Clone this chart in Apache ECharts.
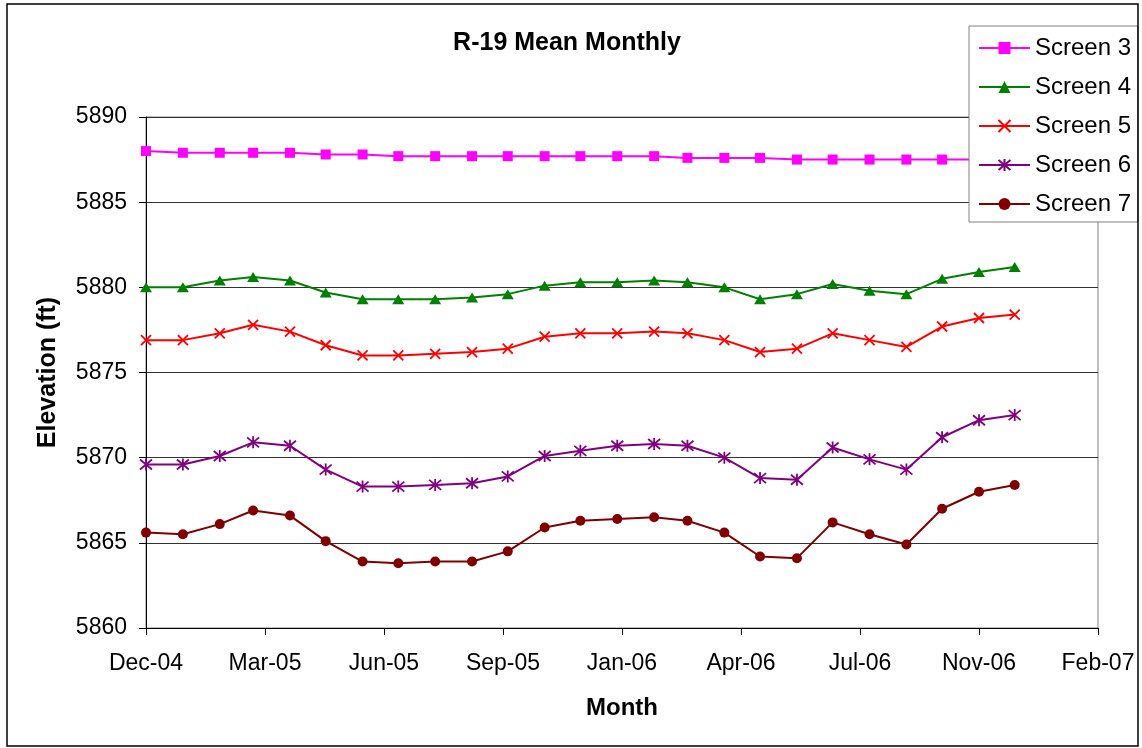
<!DOCTYPE html>
<html>
<head>
<meta charset="utf-8">
<title>R-19 Mean Monthly</title>
<script src="https://cdn.jsdelivr.net/npm/echarts@6/dist/echarts.min.js"></script>
<style>
  html, body { margin: 0; padding: 0; background: #fff; }
  #chart { width: 1142px; height: 748px; }
</style>
</head>
<body>
<div id="chart"></div>
<script>
// Monthly sample dates (first of each month)
const months = [
  '2004-12', '2005-01', '2005-02', '2005-03', '2005-04', '2005-05', '2005-06',
  '2005-07', '2005-08', '2005-09', '2005-10', '2005-11', '2005-12', '2006-01',
  '2006-02', '2006-03', '2006-04', '2006-05', '2006-06', '2006-07', '2006-08',
  '2006-09', '2006-10', '2006-11', '2006-12'
];

// Mean monthly water elevations (ft) per screen
const screen3 = [5888.0, 5887.9, 5887.9, 5887.9, 5887.9, 5887.8, 5887.8, 5887.7, 5887.7, 5887.7,
                 5887.7, 5887.7, 5887.7, 5887.7, 5887.7, 5887.6, 5887.6, 5887.6, 5887.5, 5887.5,
                 5887.5, 5887.5, 5887.5, 5887.5, 5887.5];
const screen4 = [5880.0, 5880.0, 5880.4, 5880.6, 5880.4, 5879.7, 5879.3, 5879.3, 5879.3, 5879.4,
                 5879.6, 5880.1, 5880.3, 5880.3, 5880.4, 5880.3, 5880.0, 5879.3, 5879.6, 5880.2,
                 5879.8, 5879.6, 5880.5, 5880.9, 5881.2];
const screen5 = [5876.9, 5876.9, 5877.3, 5877.8, 5877.4, 5876.6, 5876.0, 5876.0, 5876.1, 5876.2,
                 5876.4, 5877.1, 5877.3, 5877.3, 5877.4, 5877.3, 5876.9, 5876.2, 5876.4, 5877.3,
                 5876.9, 5876.5, 5877.7, 5878.2, 5878.4];
const screen6 = [5869.6, 5869.6, 5870.1, 5870.9, 5870.7, 5869.3, 5868.3, 5868.3, 5868.4, 5868.5,
                 5868.9, 5870.1, 5870.4, 5870.7, 5870.8, 5870.7, 5870.0, 5868.8, 5868.7, 5870.6,
                 5869.9, 5869.3, 5871.2, 5872.2, 5872.5];
const screen7 = [5865.6, 5865.5, 5866.1, 5866.9, 5866.6, 5865.1, 5863.9, 5863.8, 5863.9, 5863.9,
                 5864.5, 5865.9, 5866.3, 5866.4, 5866.5, 5866.3, 5865.6, 5864.2, 5864.1, 5866.2,
                 5865.5, 5864.9, 5867.0, 5868.0, 5868.4];

// Date axis: ticks every 100 days starting 1 Dec 2004
const xTickLabels = ['Dec-04', 'Mar-05', 'Jun-05', 'Sep-05', 'Jan-06', 'Apr-06', 'Jul-06', 'Nov-06', 'Feb-07'];
const yTicks = [5860, 5865, 5870, 5875, 5880, 5885, 5890];

const FONT = '"Liberation Sans", Arial, sans-serif';
const DAY = 86400000;
const ORIGIN = Date.UTC(2004, 11, 1);

function dayOffset(ym) {
  const [y, m] = ym.split('-').map(Number);
  return Math.round((Date.UTC(y, m - 1, 1) - ORIGIN) / DAY);
}

function pairs(values) {
  return months.map((m, i) => [dayOffset(m), values[i]]);
}

const X_PATH = 'path://M0,0L10,10M10,0L0,10';
const STAR_PATH = 'path://M0,0L10,10M10,0L0,10M5,-1L5,11';

function lineSeries(name, values, color, symbol, size, stroked) {
  return {
    name: name,
    type: 'line',
    data: pairs(values),
    symbol: symbol,
    symbolSize: size,
    showAllSymbol: true,
    lineStyle: { color: color, width: 2 },
    itemStyle: stroked
      ? { color: color, borderColor: color, borderWidth: 1.8 }
      : { color: color, borderWidth: 0 },
    emphasis: { disabled: true }
  };
}

const chart = echarts.init(document.getElementById('chart'), null, { renderer: 'canvas' });

chart.setOption({
  animation: false,
  backgroundColor: '#fff',
  textStyle: { fontFamily: FONT },
  title: {
    text: 'R-19 Mean Monthly',
    left: 562,
    top: 26,
    textAlign: 'center',
    textStyle: { fontFamily: FONT, fontSize: 25, fontWeight: 'bold', color: '#000' }
  },
  graphic: [{
    type: 'rect',
    shape: { x: 7, y: 4, width: 1131, height: 742 },
    style: { fill: 'none', stroke: '#000', lineWidth: 1.5 },
    z: 100
  }],
  legend: {
    orient: 'vertical',
    left: 969,
    top: 26,
    padding: [10, 7, 6, 9],
    itemWidth: 51,
    itemHeight: 15,
    itemGap: 15,
    backgroundColor: '#fff',
    borderColor: '#808080',
    borderWidth: 1,
    textStyle: { fontFamily: FONT, fontSize: 24, color: '#000', lineHeight: 23 },
    z: 10
  },
  grid: {
    left: 146,
    right: 44,
    top: 117,
    bottom: 120,
    show: true,
    borderColor: '#808080',
    borderWidth: 1,
    backgroundColor: '#fff'
  },
  xAxis: {
    type: 'value',
    min: 0,
    max: 800,
    interval: 100,
    name: 'Month',
    nameLocation: 'middle',
    nameGap: 68,
    nameTextStyle: { fontFamily: FONT, fontSize: 24, fontWeight: 'bold', color: '#000' },
    axisLine: { show: true, lineStyle: { color: '#000', width: 1 } },
    axisTick: { show: true, inside: false, length: 7, lineStyle: { color: '#000' } },
    axisLabel: {
      margin: 24,
      fontFamily: FONT,
      fontSize: 23,
      color: '#000',
      showMinLabel: true,
      showMaxLabel: true,
      formatter: v => xTickLabels[Math.round(v / 100)] || ''
    },
    splitLine: { show: false }
  },
  yAxis: {
    type: 'value',
    min: yTicks[0],
    max: yTicks[yTicks.length - 1],
    interval: 5,
    name: 'Elevation (ft)',
    nameLocation: 'middle',
    nameGap: 85,
    nameRotate: 90,
    nameTextStyle: { fontFamily: FONT, fontSize: 25, fontWeight: 'bold', color: '#000' },
    axisLine: { show: true, lineStyle: { color: '#000', width: 1 } },
    axisTick: { show: true, inside: false, length: 7, lineStyle: { color: '#000' } },
    axisLabel: {
      margin: 19,
      fontFamily: FONT,
      fontSize: 23,
      color: '#000',
      formatter: v => String(v)
    },
    splitLine: { show: true, lineStyle: { color: '#333', width: 1 } }
  },
  series: [
    lineSeries('Screen 3', screen3, '#FF00FF', 'rect', 10, false),
    lineSeries('Screen 4', screen4, '#008000', 'triangle', [12, 10], false),
    lineSeries('Screen 5', screen5, '#FF0000', X_PATH, 10, true),
    lineSeries('Screen 6', screen6, '#800080', STAR_PATH, 12, true),
    lineSeries('Screen 7', screen7, '#800000', 'circle', 10, false)
  ]
});
</script>
</body>
</html>
